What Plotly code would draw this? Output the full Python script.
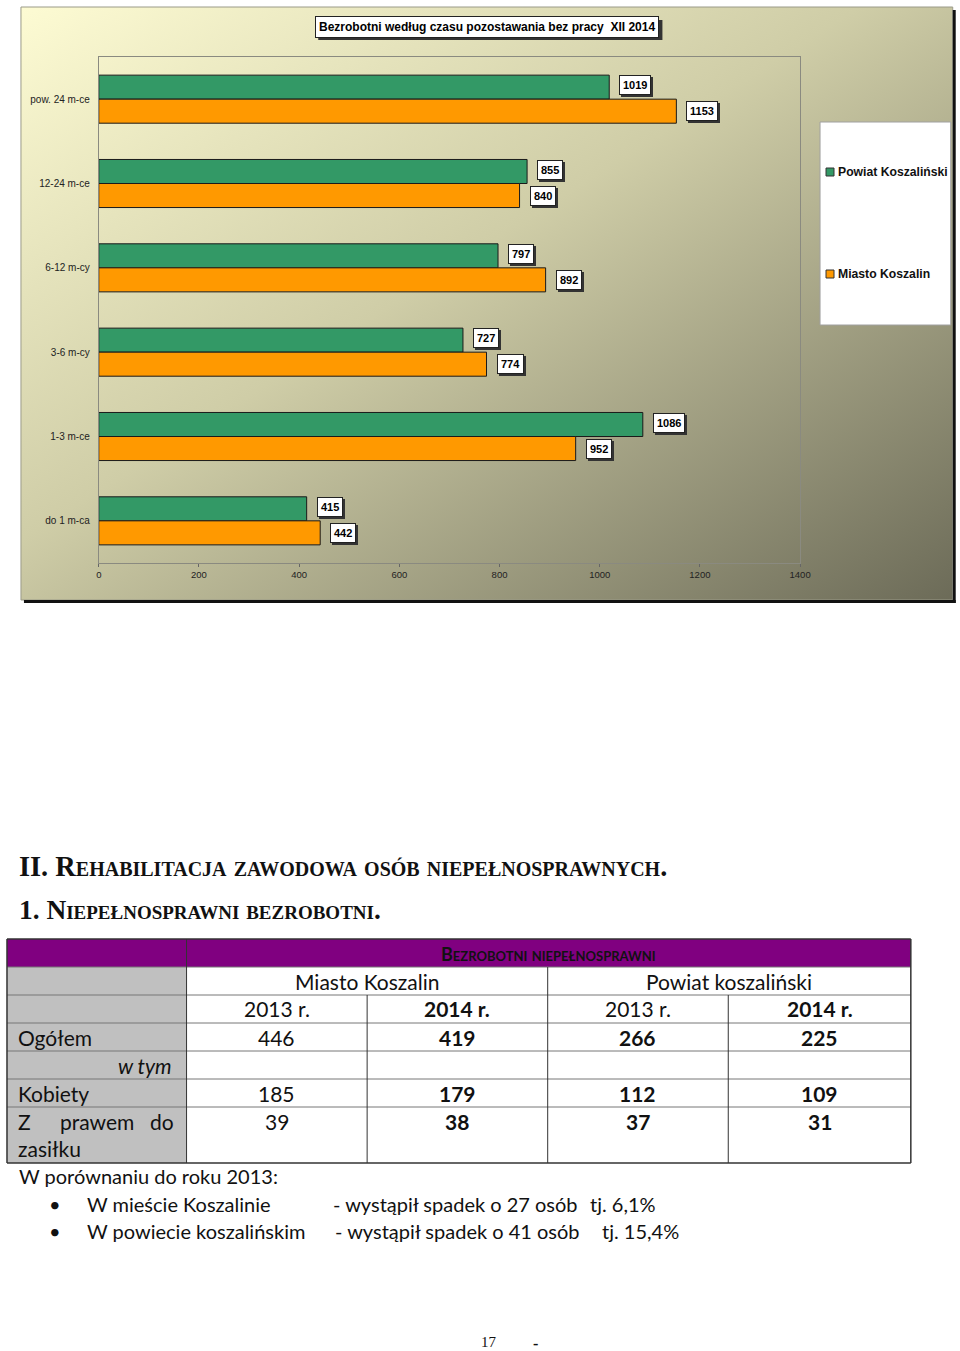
import base64
import plotly.graph_objects as go

W, H = 975, 1351
FIG_H = 1351
SX, OX = 0.988, 1.0  # horizontal compensation for page rendering

# ---------------- chart data ----------------
categories = ["pow. 24 m-ce", "12-24 m-ce", "6-12 m-cy", "3-6 m-cy", "1-3 m-ce", "do 1 m-ca"]
series_names = ["Powiat Koszaliński", "Miasto Koszalin"]
powiat_values = [1019, 855, 797, 727, 1086, 415]
miasto_values = [1153, 840, 892, 774, 952, 442]
x_ticks = [0, 200, 400, 600, 800, 1000, 1200, 1400]
chart_title = "Bezrobotni według czasu pozostawania bez pracy  XII 2014"

# ---------------- table data ----------------
heading_1 = "II. Rehabilitacja zawodowa osób niepełnosprawnych."
heading_2 = "1. Niepełnosprawni bezrobotni."
table_title = "Bezrobotni niepełnosprawni"
table_groups = ["Miasto Koszalin", "Powiat koszaliński"]
table_years = ["2013 r.", "2014 r.", "2013 r.", "2014 r."]
row_labels = ["Ogółem", "w tym", "Kobiety", "Z prawem do zasiłku"]
miasto_2013 = [446, None, 185, 39]
miasto_2014 = [419, None, 179, 38]
powiat_2013 = [266, None, 112, 37]
powiat_2014 = [225, None, 109, 31]
compare_intro = "W porównaniu do roku 2013:"
compare_places = ["W mieście Koszalinie", "W powiecie koszalińskim"]
page_number = "17"

GREEN = "#339966"
ORANGE = "#FF9900"


def px(x):
    return ((x - OX) / SX) / W


def py(y):
    return 1 - y / FIG_H


fig = go.Figure()
fig.add_trace(go.Bar(y=categories, x=powiat_values, name=series_names[0], orientation="h",
                     marker=dict(color=GREEN, line=dict(color="#1a1a1a", width=1)), hoverinfo="x+name"))
fig.add_trace(go.Bar(y=categories, x=miasto_values, name=series_names[1], orientation="h",
                     marker=dict(color=ORANGE, line=dict(color="#1a1a1a", width=1)), hoverinfo="x+name"))

annotations = []
shapes = []

lab_font = dict(family="Liberation Sans", size=11, color="black", weight="bold")
for vals, ysh in ((powiat_values, 14), (miasto_values, -12)):
    for c, v in zip(categories, vals):
        annotations.append(dict(x=v, y=c, xref="x", yref="y", text=str(v), showarrow=False,
                                xanchor="left", yanchor="middle", xshift=12, yshift=ysh - 2,
                                font=dict(lab_font, color="#333"), bgcolor="#333", bordercolor="#333",
                                borderwidth=1, borderpad=3))
        annotations.append(dict(x=v, y=c, xref="x", yref="y", text=str(v), showarrow=False,
                                xanchor="left", yanchor="middle", xshift=10, yshift=ysh,
                                font=lab_font, bgcolor="white", bordercolor="#222",
                                borderwidth=1, borderpad=3))

# title box shadow (shape) + boxed title
shapes.append(dict(type="rect", xref="paper", yref="paper", x0=px(317), x1=px(662), y0=py(20), y1=py(40),
                   line=dict(width=0), fillcolor="#333", layer="above"))
tfont = dict(family="Liberation Sans", size=12, color="black", weight="bold")
annotations.append(dict(x=px(486), y=py(27.5), xref="paper", yref="paper", text=chart_title, showarrow=False,
                        xanchor="center", yanchor="middle", font=tfont,
                        bgcolor="white", bordercolor="#222", borderwidth=1, borderpad=3))

svg = ('<svg xmlns="http://www.w3.org/2000/svg" width="934" height="593" preserveAspectRatio="none">'
       '<defs><linearGradient id="g" x1="0" y1="0" x2="1" y2="1">'
       '<stop offset="0" stop-color="#fdfbd3"/><stop offset="0.45" stop-color="#cfcda7"/>'
       '<stop offset="1" stop-color="#6c6b58"/></linearGradient></defs>'
       '<rect width="100%" height="100%" fill="url(#g)"/></svg>')
src = "data:image/svg+xml;base64," + base64.b64encode(svg.encode()).decode()
images = [dict(source=src, xref="paper", yref="paper", x=px(19), y=py(7), sizex=px(953) - px(19),
               sizey=(600 - 7) / FIG_H, xanchor="left", yanchor="top", sizing="stretch", layer="below")]

shapes.append(dict(type="rect", xref="paper", yref="paper", x0=px(19), x1=px(953), y0=py(7), y1=py(600),
                   line=dict(color="#9a9a88", width=1), fillcolor="rgba(0,0,0,0)", layer="below"))
shapes.append(dict(type="rect", xref="paper", yref="paper", x0=px(953), x1=px(956), y0=py(10), y1=py(603),
                   line=dict(width=0), fillcolor="#111", layer="below"))
shapes.append(dict(type="rect", xref="paper", yref="paper", x0=px(22), x1=px(956), y0=py(600), y1=py(603),
                   line=dict(width=0), fillcolor="#111", layer="below"))

shapes.append(dict(type="rect", xref="paper", yref="paper", x0=px(820), x1=px(951), y0=py(122), y1=py(325),
                   line=dict(color="#a0a0a0", width=1), fillcolor="white", layer="above"))
for name, col, yy in ((series_names[0], GREEN, 172), (series_names[1], ORANGE, 274)):
    shapes.append(dict(type="rect", xref="paper", yref="paper", x0=px(826), x1=px(834), y0=py(yy - 4),
                       y1=py(yy + 4), line=dict(color="#333", width=1), fillcolor=col, layer="above"))
    annotations.append(dict(x=px(836), y=py(yy), xref="paper", yref="paper", text=name, showarrow=False,
                            xanchor="left", yanchor="middle",
                            font=dict(family="Liberation Sans", size=12.2, color="#111", weight="bold")))

annotations.append(dict(x=px(15), y=py(866), xref="paper", yref="paper", text=heading_1, showarrow=False,
                        xanchor="left", yanchor="middle",
                        font=dict(family="Liberation Serif", size=28.4, color="#111", weight="bold",
                                  variant="small-caps")))
annotations.append(dict(x=px(15), y=py(910), xref="paper", yref="paper", text=heading_2, showarrow=False,
                        xanchor="left", yanchor="middle",
                        font=dict(family="Liberation Serif", size=27.4, color="#111", weight="bold",
                                  variant="small-caps")))

col_x = [5, 185, 366, 547, 728, 911]
row_y = [939, 967, 995, 1023, 1051, 1079, 1107, 1163]
TF = "Lato"
line_col = "#333"
shapes.append(dict(type="rect", xref="paper", yref="paper", x0=px(col_x[0]), x1=px(col_x[-1]),
                   y0=py(row_y[0]), y1=py(row_y[1]), line=dict(width=0), fillcolor="#800080", layer="above"))
shapes.append(dict(type="rect", xref="paper", yref="paper", x0=px(col_x[0]), x1=px(col_x[1]),
                   y0=py(row_y[1]), y1=py(row_y[-1]), line=dict(width=0), fillcolor="#C0C0C0", layer="above"))
for i, yy in enumerate(row_y):
    edge = i in (0, len(row_y) - 1)
    shapes.append(dict(type="line", xref="paper", yref="paper", x0=px(col_x[0]), x1=px(col_x[-1]),
                       y0=py(yy), y1=py(yy), line=dict(color=line_col if edge else "#777",
                                                       width=1.5 if edge else 1), layer="above"))
for j, xx in enumerate(col_x):
    top = row_y[0] if j in (0, 1, 5) else (row_y[1] if j == 3 else row_y[2])
    shapes.append(dict(type="line", xref="paper", yref="paper", x0=px(xx), x1=px(xx),
                       y0=py(top), y1=py(row_y[-1]), line=dict(color=line_col, width=1.5 if j in (0, 5) else 1),
                       layer="above"))


def cell_text(x, y, text, size=21, weight="normal", anchor="center", style="normal", color="#111", family=TF,
              variant="normal"):
    annotations.append(dict(x=px(x), y=py(y), xref="paper", yref="paper", text=text, showarrow=False,
                            xanchor=anchor, yanchor="middle",
                            font=dict(family=family, size=size, color=color, weight=weight, style=style,
                                      variant=variant)))


cell_text((col_x[1] + col_x[-1]) / 2, (row_y[0] + row_y[1]) / 2 + 1, table_title, size=18,
          color="#111", variant="small-caps", weight="bold")
cell_text((col_x[1] + col_x[3]) / 2, (row_y[1] + row_y[2]) / 2, table_groups[0])
cell_text((col_x[3] + col_x[5]) / 2, (row_y[1] + row_y[2]) / 2, table_groups[1])
for j, yr in enumerate(table_years):
    cell_text((col_x[j + 1] + col_x[j + 2]) / 2, (row_y[2] + row_y[3]) / 2, yr,
              weight="bold" if "2014" in yr else "normal")

columns = [miasto_2013, miasto_2014, powiat_2013, powiat_2014]
for i, lab in enumerate(row_labels):
    top, bot = row_y[3 + i], row_y[4 + i]
    yc = top + 14
    if lab == "w tym":
        cell_text(172, yc, lab, anchor="right", style="italic")
    elif bot - top > 40:
        words = lab.split()
        first, second = words[:3], " ".join(words[3:])
        cell_text(14, yc, first[0], anchor="left")
        cell_text(95, yc, first[1], anchor="center")
        cell_text(174, yc, first[2], anchor="right")
        cell_text(14, yc + 27, second, anchor="left")
    else:
        cell_text(14, yc, lab, anchor="left")
    for j, col in enumerate(columns):
        v = col[i]
        if v is None:
            continue
        cell_text((col_x[j + 1] + col_x[j + 2]) / 2, yc, str(v), weight="normal" if j == 0 else "bold")

cell_text(15, 1176, compare_intro, anchor="left", size=20)
totals = [(miasto_2013[0], miasto_2014[0]), (powiat_2013[0], powiat_2014[0])]
for k, (place, (a, b)) in enumerate(zip(compare_places, totals)):
    yy = 1204 + k * 27
    d = a - b
    pct = f"{d / a * 100:.1f}".replace(".", ",") + "%"
    cell_text(53, yy, "•", anchor="center", size=20)
    cell_text(83, yy, place, anchor="left", size=20)
    cell_text(330 + 2 * k, yy, f"- wystąpił spadek o {d} osób", anchor="left", size=20)
    cell_text(587 + 12 * k, yy, f"tj. {pct}", anchor="left", size=20)

cell_text(488, 1342, page_number, size=15, family="Liberation Serif")
cell_text(535, 1343, "-", size=16, family="Liberation Serif", weight="bold")

fig.update_layout(
    width=W, height=FIG_H, autosize=False,
    margin=dict(l=0, r=0, t=0, b=0, pad=0),
    paper_bgcolor="white", plot_bgcolor="#FFFFCC",
    barmode="group", bargap=0.43, bargroupgap=0,
    showlegend=False,
    xaxis=dict(domain=[px(97), px(800)], range=[0, 1400], tickvals=x_ticks, showgrid=False, zeroline=False,
               showline=True, linecolor="#8a8a80", linewidth=1, mirror=True, ticks="outside", ticklen=3,
               tickcolor="#666", tickfont=dict(family="Liberation Sans", size=9.5, color="#222"),
               anchor="y", fixedrange=True),
    yaxis=dict(domain=[py(563), py(57)], type="category", range=[5.5, -0.5], showgrid=False,
               showline=True, linecolor="#8a8a80", linewidth=1, mirror=True, ticks="", ticklen=0,
               tickfont=dict(family="Liberation Sans", size=10, color="#222"), ticklabelstandoff=6,
               anchor="x", fixedrange=True),
    annotations=annotations, shapes=shapes, images=images,
)

fig.write_html("out.html")
